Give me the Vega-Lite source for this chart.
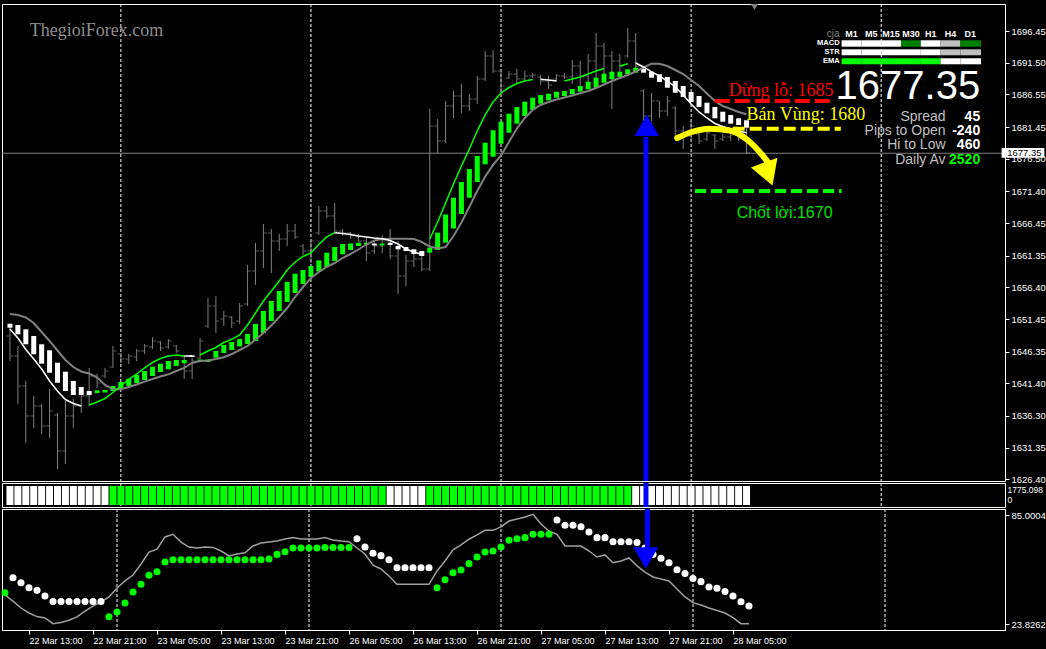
{
"$schema":"https://vega.github.io/schema/vega-lite/v6.json",
"background":"#000000",
"padding":{"left":0,"top":3,"right":46,"bottom":18},
"bounds":"flush",
"spacing":2,
"config":{
 "view":{"stroke":"#ffffff","strokeWidth":1,"fill":"#000000"},
 "axis":{"labelColor":"#ffffff","domainColor":"#ffffff","tickColor":"#ffffff","labelFont":"Liberation Sans","labelFontSize":9.5,"grid":false,"labelOverlap":false,"tickSize":4,"labelPadding":2}
},
"datasets":{
 "one":[{}],
 "days":[{"d":14},{"d":38},{"d":62},{"d":86},{"d":110}],
 "bars":[
{"i":0,"h":1650.20,"l":1644.89,"o":1648.80,"c":1645.67,"a":1650.72,"b":1650.09,"hc":"w","m":1652.23,"s":"w","v":41.4,"vc":"g","w":40.1},
{"i":1,"h":1647.23,"l":1638.17,"o":1645.67,"c":1640.98,"a":1650.52,"b":1649.06,"hc":"w","m":1652.08,"s":"w","v":49.8,"vc":"w","w":36.7},
{"i":2,"h":1641.77,"l":1632.08,"o":1640.98,"c":1636.30,"a":1649.84,"b":1647.50,"hc":"w","m":1651.69,"s":"w","v":47.0,"vc":"w","w":32.8},
{"i":3,"h":1639.42,"l":1634.42,"o":1636.30,"c":1637.86,"a":1648.80,"b":1645.94,"hc":"w","m":1650.83,"s":"w","v":44.2,"vc":"w","w":30.0},
{"i":4,"h":1638.17,"l":1633.48,"o":1637.86,"c":1634.73,"a":1647.50,"b":1644.47,"hc":"w","m":1649.42,"s":"w","v":42.7,"vc":"w","w":28.0},
{"i":5,"h":1640.52,"l":1632.86,"o":1634.73,"c":1637.08,"a":1646.56,"b":1643.06,"hc":"w","m":1648.02,"s":"w","v":39.5,"vc":"w","w":27.2},
{"i":6,"h":1636.77,"l":1628.02,"o":1636.45,"c":1630.83,"a":1644.62,"b":1641.50,"hc":"w","m":1646.53,"s":"w","v":36.5,"vc":"w","w":24.0},
{"i":7,"h":1638.64,"l":1628.80,"o":1630.83,"c":1636.30,"a":1643.22,"b":1640.20,"hc":"w","m":1645.05,"s":"w","v":36.5,"vc":"w","w":24.7},
{"i":8,"h":1638.95,"l":1634.42,"o":1636.30,"c":1637.86,"a":1641.77,"b":1639.58,"hc":"w","m":1643.95,"s":"w","v":36.5,"vc":"w","w":25.9},
{"i":9,"h":1640.67,"l":1636.77,"o":1637.86,"c":1639.42,"a":1640.83,"b":1639.58,"hc":"w","m":1643.25,"s":"w","v":36.5,"vc":"w","w":27.8},
{"i":10,"h":1643.80,"l":1637.86,"o":1639.42,"c":1642.55,"a":1640.20,"b":1639.58,"hc":"w","m":1642.94,"s":"w","v":36.5,"vc":"w","w":31.1},
{"i":11,"h":1642.86,"l":1640.67,"o":1642.55,"c":1641.45,"a":1640.31,"b":1639.89,"hc":"g","m":1642.31,"s":"w","v":36.5,"vc":"w","w":33.9},
{"i":12,"h":1643.80,"l":1642.23,"o":1642.55,"c":1643.33,"a":1640.36,"b":1639.97,"hc":"g","m":1641.14,"s":"w","v":36.5,"vc":"w","w":36.2},
{"i":13,"h":1647.23,"l":1643.80,"o":1643.95,"c":1646.45,"a":1640.98,"b":1640.20,"hc":"g","m":1640.47,"s":"g","v":27.9,"vc":"g","w":39.0},
{"i":14,"h":1646.14,"l":1644.58,"o":1645.98,"c":1645.20,"a":1641.61,"b":1640.52,"hc":"g","m":1640.47,"s":"g","v":30.6,"vc":"g","w":44.0},
{"i":15,"h":1645.98,"l":1644.42,"o":1645.20,"c":1645.67,"a":1642.12,"b":1640.98,"hc":"g","m":1640.83,"s":"g","v":35.6,"vc":"g","w":48.0},
{"i":16,"h":1646.77,"l":1644.89,"o":1645.52,"c":1646.45,"a":1642.70,"b":1641.41,"hc":"g","m":1641.22,"s":"g","v":41.8,"vc":"g","w":51.3},
{"i":17,"h":1647.55,"l":1645.98,"o":1646.45,"c":1647.23,"a":1643.33,"b":1641.92,"hc":"g","m":1641.66,"s":"g","v":46.1,"vc":"g","w":57.5},
{"i":18,"h":1648.64,"l":1646.77,"o":1647.08,"c":1648.02,"a":1644.00,"b":1642.55,"hc":"g","m":1642.08,"s":"g","v":51.2,"vc":"g","w":64.2},
{"i":19,"h":1648.02,"l":1646.45,"o":1647.86,"c":1646.92,"a":1644.47,"b":1643.17,"hc":"g","m":1642.47,"s":"g","v":53.2,"vc":"g","w":65.8},
{"i":20,"h":1648.33,"l":1646.77,"o":1647.08,"c":1648.02,"a":1644.89,"b":1643.59,"hc":"g","m":1642.81,"s":"g","v":58.6,"vc":"g","w":72.7},
{"i":21,"h":1647.39,"l":1646.14,"o":1647.23,"c":1646.45,"a":1645.05,"b":1644.11,"hc":"g","m":1643.33,"s":"g","v":59.9,"vc":"g","w":74.2},
{"i":22,"h":1645.67,"l":1642.08,"o":1645.52,"c":1643.33,"a":1645.05,"b":1644.53,"hc":"g","m":1643.80,"s":"g","v":59.9,"vc":"g","w":69.8},
{"i":23,"h":1645.36,"l":1642.08,"o":1643.33,"c":1644.89,"a":1645.78,"b":1645.52,"hc":"w","m":1644.58,"s":"g","v":59.9,"vc":"g","w":67.0},
{"i":24,"h":1648.48,"l":1645.20,"o":1645.36,"c":1648.02,"a":1645.12,"b":1644.81,"hc":"g","m":1644.89,"s":"g","v":59.9,"vc":"g","w":66.5},
{"i":25,"h":1654.73,"l":1650.05,"o":1650.36,"c":1653.48,"a":1645.12,"b":1644.73,"hc":"g","m":1644.97,"s":"g","v":59.9,"vc":"g","w":67.0},
{"i":26,"h":1655.05,"l":1649.27,"o":1653.48,"c":1651.14,"a":1646.45,"b":1645.41,"hc":"g","m":1645.20,"s":"g","v":59.9,"vc":"g","w":66.8},
{"i":27,"h":1652.70,"l":1650.36,"o":1651.45,"c":1651.92,"a":1647.39,"b":1646.14,"hc":"g","m":1645.47,"s":"g","v":59.9,"vc":"g","w":64.8},
{"i":28,"h":1651.92,"l":1650.05,"o":1651.77,"c":1650.83,"a":1647.86,"b":1646.61,"hc":"g","m":1645.98,"s":"g","v":59.9,"vc":"g","w":62.0},
{"i":29,"h":1653.95,"l":1650.67,"o":1651.14,"c":1653.48,"a":1648.33,"b":1647.16,"hc":"g","m":1646.61,"s":"g","v":59.9,"vc":"g","w":63.1},
{"i":30,"h":1659.89,"l":1653.48,"o":1653.80,"c":1658.95,"a":1649.11,"b":1647.55,"hc":"g","m":1647.23,"s":"g","v":59.9,"vc":"g","w":63.8},
{"i":31,"h":1663.33,"l":1656.77,"o":1658.95,"c":1662.08,"a":1650.67,"b":1648.02,"hc":"g","m":1648.25,"s":"g","v":59.9,"vc":"g","w":67.6},
{"i":32,"h":1666.30,"l":1659.42,"o":1662.08,"c":1664.89,"a":1652.70,"b":1649.27,"hc":"g","m":1649.27,"s":"g","v":59.9,"vc":"g","w":69.3},
{"i":33,"h":1665.52,"l":1658.64,"o":1664.89,"c":1663.64,"a":1654.27,"b":1651.14,"hc":"g","m":1650.44,"s":"g","v":60.3,"vc":"g","w":69.8},
{"i":34,"h":1664.73,"l":1662.08,"o":1663.64,"c":1663.95,"a":1655.83,"b":1652.70,"hc":"g","m":1651.77,"s":"g","v":62.9,"vc":"g","w":70.4},
{"i":35,"h":1666.30,"l":1662.86,"o":1663.95,"c":1665.20,"a":1657.23,"b":1654.11,"hc":"g","m":1653.17,"s":"g","v":64.4,"vc":"g","w":71.5},
{"i":36,"h":1666.30,"l":1663.95,"o":1665.20,"c":1664.27,"a":1658.53,"b":1655.52,"hc":"g","m":1654.89,"s":"g","v":66.5,"vc":"g","w":72.3},
{"i":37,"h":1663.17,"l":1661.45,"o":1662.86,"c":1662.08,"a":1659.11,"b":1656.92,"hc":"g","m":1656.45,"s":"g","v":66.5,"vc":"g","w":71.5},
{"i":38,"h":1663.95,"l":1660.20,"o":1662.08,"c":1663.64,"a":1659.73,"b":1658.02,"hc":"g","m":1657.86,"s":"g","v":66.5,"vc":"g","w":71.5},
{"i":39,"h":1669.11,"l":1664.58,"o":1664.89,"c":1668.33,"a":1660.62,"b":1658.87,"hc":"g","m":1658.80,"s":"g","v":66.5,"vc":"g","w":71.5},
{"i":40,"h":1669.11,"l":1667.23,"o":1668.33,"c":1667.55,"a":1661.81,"b":1659.58,"hc":"g","m":1659.58,"s":"g","v":66.8,"vc":"g","w":72.3},
{"i":41,"h":1669.58,"l":1664.89,"o":1667.55,"c":1665.20,"a":1662.70,"b":1660.52,"hc":"g","m":1660.20,"s":"g","v":66.8,"vc":"g","w":71.0},
{"i":42,"h":1665.52,"l":1664.42,"o":1665.20,"c":1664.89,"a":1663.17,"b":1661.56,"hc":"g","m":1660.98,"s":"g","v":66.8,"vc":"g","w":70.4},
{"i":43,"h":1665.05,"l":1663.95,"o":1664.89,"c":1664.42,"a":1663.25,"b":1662.23,"hc":"g","m":1661.61,"s":"g","v":66.8,"vc":"g","w":70.0},
{"i":44,"h":1664.73,"l":1663.48,"o":1664.42,"c":1663.64,"a":1663.37,"b":1662.86,"hc":"g","m":1662.31,"s":"g","v":71.7,"vc":"w","w":66.5},
{"i":45,"h":1664.11,"l":1660.52,"o":1663.64,"c":1661.77,"a":1663.37,"b":1663.09,"hc":"g","m":1663.09,"s":"g","v":67.0,"vc":"w","w":63.1},
{"i":46,"h":1663.64,"l":1661.61,"o":1662.08,"c":1662.86,"a":1663.25,"b":1662.94,"hc":"w","m":1663.72,"s":"g","v":63.5,"vc":"w","w":56.9},
{"i":47,"h":1664.58,"l":1661.77,"o":1662.86,"c":1663.64,"a":1663.25,"b":1662.94,"hc":"g","m":1663.95,"s":"g","v":62.2,"vc":"w","w":54.7},
{"i":48,"h":1665.52,"l":1660.83,"o":1663.64,"c":1661.30,"a":1663.37,"b":1663.02,"hc":"w","m":1664.00,"s":"w","v":59.9,"vc":"w","w":50.8},
{"i":49,"h":1663.64,"l":1655.36,"o":1661.30,"c":1658.17,"a":1662.86,"b":1662.34,"hc":"w","m":1664.00,"s":"w","v":55.4,"vc":"w","w":46.1},
{"i":50,"h":1661.45,"l":1656.61,"o":1658.17,"c":1660.52,"a":1662.70,"b":1662.08,"hc":"w","m":1664.00,"s":"w","v":55.4,"vc":"w","w":46.1},
{"i":51,"h":1662.08,"l":1659.58,"o":1660.52,"c":1660.83,"a":1662.34,"b":1661.61,"hc":"w","m":1663.95,"s":"w","v":55.4,"vc":"w","w":46.1},
{"i":52,"h":1661.45,"l":1658.95,"o":1660.83,"c":1659.27,"a":1662.08,"b":1661.30,"hc":"w","m":1663.48,"s":"w","v":55.4,"vc":"w","w":46.1},
{"i":53,"h":1684.27,"l":1658.95,"o":1659.27,"c":1681.61,"a":1662.59,"b":1661.81,"hc":"g","m":1662.78,"s":"g","v":55.4,"vc":"w","w":46.1},
{"i":54,"h":1682.70,"l":1677.39,"o":1681.61,"c":1679.27,"a":1664.94,"b":1662.23,"hc":"g","m":1662.47,"s":"g","v":44.2,"vc":"g","w":53.6},
{"i":55,"h":1685.52,"l":1678.95,"o":1679.27,"c":1684.73,"a":1667.78,"b":1663.37,"hc":"g","m":1662.70,"s":"g","v":48.7,"vc":"g","w":59.2},
{"i":56,"h":1687.08,"l":1682.86,"o":1684.73,"c":1686.30,"a":1670.41,"b":1665.59,"hc":"g","m":1664.42,"s":"g","v":52.6,"vc":"g","w":65.4},
{"i":57,"h":1688.17,"l":1683.64,"o":1686.30,"c":1684.73,"a":1672.86,"b":1667.86,"hc":"g","m":1666.53,"s":"g","v":54.1,"vc":"g","w":68.2},
{"i":58,"h":1686.61,"l":1683.95,"o":1684.73,"c":1685.83,"a":1674.89,"b":1670.41,"hc":"g","m":1668.95,"s":"g","v":57.7,"vc":"g","w":71.4},
{"i":59,"h":1689.42,"l":1685.05,"o":1685.83,"c":1688.95,"a":1676.92,"b":1672.86,"hc":"g","m":1671.45,"s":"g","v":61.4,"vc":"g","w":73.8},
{"i":60,"h":1693.33,"l":1688.64,"o":1688.95,"c":1692.55,"a":1679.00,"b":1675.62,"hc":"g","m":1673.72,"s":"g","v":64.2,"vc":"g","w":76.4},
{"i":61,"h":1693.48,"l":1689.89,"o":1692.55,"c":1690.20,"a":1680.94,"b":1676.81,"hc":"g","m":1675.52,"s":"g","v":64.8,"vc":"g","w":76.4},
{"i":62,"h":1690.20,"l":1687.08,"o":1690.20,"c":1687.86,"a":1682.28,"b":1678.84,"hc":"g","m":1677.00,"s":"g","v":67.0,"vc":"g","w":78.3},
{"i":63,"h":1690.20,"l":1688.95,"o":1689.11,"c":1689.73,"a":1683.53,"b":1680.56,"hc":"g","m":1679.11,"s":"g","v":70.8,"vc":"g","w":81.6},
{"i":64,"h":1690.52,"l":1688.33,"o":1689.73,"c":1688.95,"a":1684.58,"b":1681.97,"hc":"g","m":1681.22,"s":"g","v":71.7,"vc":"g","w":82.8},
{"i":65,"h":1690.20,"l":1688.64,"o":1688.95,"c":1689.42,"a":1685.41,"b":1683.17,"hc":"g","m":1682.86,"s":"g","v":72.3,"vc":"g","w":83.9},
{"i":66,"h":1689.89,"l":1689.11,"o":1689.42,"c":1689.58,"a":1686.03,"b":1684.11,"hc":"g","m":1684.11,"s":"g","v":74.2,"vc":"g","w":85.4},
{"i":67,"h":1689.58,"l":1688.02,"o":1689.27,"c":1688.64,"a":1686.45,"b":1685.09,"hc":"g","m":1684.89,"s":"g","v":74.2,"vc":"g","w":79.9},
{"i":68,"h":1689.42,"l":1687.39,"o":1688.64,"c":1688.02,"a":1686.66,"b":1685.62,"hc":"g","m":1685.36,"s":"g","v":74.2,"vc":"g","w":76.0},
{"i":69,"h":1689.73,"l":1688.64,"o":1688.95,"c":1689.42,"a":1686.97,"b":1686.03,"hc":"g","m":1685.75,"s":"g","v":82.2,"vc":"w","w":74.1},
{"i":70,"h":1689.89,"l":1688.95,"o":1689.42,"c":1689.27,"a":1687.08,"b":1686.30,"hc":"g","m":1686.06,"s":"g","v":79.2,"vc":"w","w":67.6},
{"i":71,"h":1691.92,"l":1688.17,"o":1689.27,"c":1690.98,"a":1687.39,"b":1686.56,"hc":"g","m":1686.37,"s":"g","v":79.2,"vc":"w","w":67.6},
{"i":72,"h":1691.77,"l":1687.39,"o":1690.98,"c":1689.42,"a":1687.86,"b":1686.97,"hc":"g","m":1686.72,"s":"g","v":78.4,"vc":"w","w":67.6},
{"i":73,"h":1692.86,"l":1688.33,"o":1689.42,"c":1691.77,"a":1688.53,"b":1687.34,"hc":"g","m":1687.08,"s":"g","v":75.5,"vc":"w","w":64.8},
{"i":74,"h":1696.14,"l":1689.11,"o":1691.77,"c":1694.11,"a":1689.16,"b":1687.59,"hc":"g","m":1687.55,"s":"g","v":72.3,"vc":"w","w":61.4},
{"i":75,"h":1694.58,"l":1689.42,"o":1694.11,"c":1692.55,"a":1689.78,"b":1688.37,"hc":"g","m":1688.09,"s":"g","v":72.3,"vc":"w","w":62.6},
{"i":76,"h":1693.33,"l":1684.27,"o":1692.55,"c":1691.77,"a":1690.09,"b":1688.91,"hc":"g","m":1688.64,"s":"g","v":70.0,"vc":"w","w":58.2},
{"i":77,"h":1692.86,"l":1689.42,"o":1691.77,"c":1690.98,"a":1690.09,"b":1689.27,"hc":"g","m":1689.11,"s":"g","v":70.0,"vc":"w","w":59.2},
{"i":78,"h":1696.92,"l":1692.23,"o":1692.55,"c":1694.89,"a":1690.47,"b":1689.69,"hc":"g","m":1689.58,"s":"g","v":70.0,"vc":"w","w":60.9},
{"i":79,"h":1696.14,"l":1690.36,"o":1694.89,"c":1690.98,"a":1690.72,"b":1689.94,"hc":"g","m":1690.12,"s":"w","v":69.5,"vc":"w","w":56.4},
{"i":80,"h":1687.39,"l":1680.36,"o":1687.08,"c":1683.17,"a":1690.56,"b":1689.94,"hc":"w","m":1690.75,"s":"w","v":66.5,"vc":"w","w":53.0},
{"i":81,"h":1686.77,"l":1682.39,"o":1683.17,"c":1685.52,"a":1690.09,"b":1689.16,"hc":"w","m":1691.34,"s":"w","v":62.9,"vc":"w","w":50.2},
{"i":82,"h":1685.52,"l":1682.86,"o":1685.52,"c":1683.95,"a":1689.69,"b":1688.48,"hc":"w","m":1691.34,"s":"w","v":60.7,"vc":"w","w":49.1},
{"i":83,"h":1686.30,"l":1683.17,"o":1683.95,"c":1685.52,"a":1689.27,"b":1687.59,"hc":"w","m":1690.98,"s":"w","v":58.2,"vc":"w","w":48.0},
{"i":84,"h":1684.73,"l":1679.58,"o":1684.42,"c":1680.83,"a":1688.64,"b":1686.81,"hc":"w","m":1690.36,"s":"w","v":54.3,"vc":"w","w":43.5},
{"i":85,"h":1681.61,"l":1678.02,"o":1680.83,"c":1680.05,"a":1687.86,"b":1686.14,"hc":"w","m":1689.73,"s":"w","v":52.1,"vc":"w","w":39.0},
{"i":86,"h":1682.39,"l":1679.27,"o":1680.05,"c":1681.61,"a":1686.92,"b":1685.36,"hc":"w","m":1688.80,"s":"w","v":49.3,"vc":"w","w":35.8},
{"i":87,"h":1680.52,"l":1678.80,"o":1680.36,"c":1679.27,"a":1686.30,"b":1684.58,"hc":"w","m":1687.86,"s":"w","v":47.6,"vc":"w","w":34.5},
{"i":88,"h":1681.14,"l":1679.27,"o":1679.58,"c":1680.52,"a":1685.25,"b":1683.59,"hc":"w","m":1686.69,"s":"w","v":44.6,"vc":"w","w":32.8},
{"i":89,"h":1680.36,"l":1678.02,"o":1680.20,"c":1679.27,"a":1684.58,"b":1682.81,"hc":"w","m":1685.52,"s":"w","v":43.9,"vc":"w","w":31.4},
{"i":90,"h":1680.36,"l":1679.27,"o":1679.58,"c":1679.89,"a":1683.84,"b":1682.28,"hc":"w","m":1684.73,"s":"w","v":42.0,"vc":"w","w":30.0},
{"i":91,"h":1680.52,"l":1679.27,"o":1679.89,"c":1680.20,"a":1683.33,"b":1681.97,"hc":"w","m":1684.27,"s":"w","v":39.5,"vc":"w","w":27.4},
{"i":92,"h":1680.83,"l":1679.27,"o":1680.20,"c":1679.58,"a":1682.81,"b":1681.77,"hc":"w","m":1683.80,"s":"w","v":36.3,"vc":"w","w":24.0},
{"i":93,"h":1681.30,"l":1677.23,"o":1679.58,"c":1677.39,"a":1682.50,"b":1681.34,"hc":"w","m":1683.44,"s":"w","v":33.9,"vc":"w","w":24.0}
 ],
 "up":[
{"i":0,"v":1649.89,"g":1,"k":"w"},{"i":1,"v":1648.48,"g":1,"k":"w"},{"i":2,"v":1646.69,"g":1,"k":"w"},{"i":3,"v":1645.20,"g":1,"k":"w"},{"i":4,"v":1643.64,"g":1,"k":"w"},{"i":5,"v":1641.77,"g":1,"k":"w"},{"i":6,"v":1640.20,"g":1,"k":"w"},{"i":7,"v":1638.87,"g":1,"k":"w"},{"i":8,"v":1638.25,"g":1,"k":"w"},{"i":9,"v":1637.86,"g":1,"k":"w"},
{"i":10,"v":1638.02,"g":2,"k":"g"},{"i":11,"v":1638.48,"g":2,"k":"g"},{"i":12,"v":1639.03,"g":2,"k":"g"},{"i":13,"v":1639.97,"g":2,"k":"g"},{"i":14,"v":1640.98,"g":2,"k":"g"},{"i":15,"v":1642.03,"g":2,"k":"g"},{"i":16,"v":1642.86,"g":2,"k":"g"},{"i":17,"v":1643.80,"g":2,"k":"g"},{"i":18,"v":1644.66,"g":2,"k":"g"},{"i":19,"v":1645.28,"g":2,"k":"g"},{"i":20,"v":1645.67,"g":2,"k":"g"},{"i":21,"v":1645.83,"g":2,"k":"g"},{"i":22,"v":1645.67,"g":2,"k":"g"},
{"i":22,"v":1645.67,"g":3,"k":"w"},{"i":23,"v":1645.67,"g":3,"k":"w"},
{"i":24,"v":1645.83,"g":4,"k":"g"},{"i":25,"v":1646.45,"g":4,"k":"g"},{"i":26,"v":1647.00,"g":4,"k":"g"},{"i":27,"v":1647.78,"g":4,"k":"g"},{"i":28,"v":1648.28,"g":4,"k":"g"},{"i":29,"v":1648.95,"g":4,"k":"g"},{"i":30,"v":1650.52,"g":4,"k":"g"},{"i":31,"v":1652.39,"g":4,"k":"g"},{"i":32,"v":1654.27,"g":4,"k":"g"},{"i":33,"v":1655.83,"g":4,"k":"g"},{"i":34,"v":1657.39,"g":4,"k":"g"},{"i":35,"v":1659.11,"g":4,"k":"g"},{"i":36,"v":1660.36,"g":4,"k":"g"},{"i":37,"v":1661.22,"g":4,"k":"g"},{"i":38,"v":1661.77,"g":4,"k":"g"},{"i":39,"v":1663.12,"g":4,"k":"g"},{"i":40,"v":1664.27,"g":4,"k":"g"},{"i":41,"v":1664.94,"g":4,"k":"g"},
{"i":41,"v":1664.94,"g":5,"k":"w"},{"i":42,"v":1664.81,"g":5,"k":"w"},{"i":43,"v":1664.66,"g":5,"k":"w"},{"i":44,"v":1664.42,"g":5,"k":"w"},{"i":45,"v":1664.27,"g":5,"k":"w"},{"i":46,"v":1664.11,"g":5,"k":"w"},{"i":47,"v":1664.00,"g":5,"k":"w"},{"i":48,"v":1663.72,"g":5,"k":"w"},{"i":49,"v":1663.17,"g":5,"k":"w"},{"i":50,"v":1662.39,"g":5,"k":"w"},{"i":51,"v":1661.92,"g":5,"k":"w"},{"i":52,"v":1661.53,"g":5,"k":"w"},
{"i":53,"v":1663.95,"g":6,"k":"g"},{"i":54,"v":1666.61,"g":6,"k":"g"},{"i":55,"v":1669.58,"g":6,"k":"g"},{"i":56,"v":1672.55,"g":6,"k":"g"},{"i":57,"v":1675.36,"g":6,"k":"g"},{"i":58,"v":1678.02,"g":6,"k":"g"},{"i":59,"v":1680.83,"g":6,"k":"g"},{"i":60,"v":1683.33,"g":6,"k":"g"},{"i":61,"v":1685.36,"g":6,"k":"g"},{"i":62,"v":1686.77,"g":6,"k":"g"},{"i":63,"v":1687.62,"g":6,"k":"g"},{"i":64,"v":1688.25,"g":6,"k":"g"},{"i":65,"v":1688.64,"g":6,"k":"g"},{"i":66,"v":1688.87,"g":6,"k":"g"},
{"i":67,"v":1688.91,"g":7,"k":"w"},{"i":68,"v":1688.80,"g":7,"k":"w"},{"i":69,"v":1688.64,"g":7,"k":"w"},
{"i":70,"v":1688.64,"g":8,"k":"g"},{"i":71,"v":1688.95,"g":8,"k":"g"},{"i":72,"v":1689.27,"g":8,"k":"g"},{"i":73,"v":1689.73,"g":8,"k":"g"},{"i":74,"v":1690.20,"g":8,"k":"g"},{"i":75,"v":1690.59,"g":8,"k":"g"},
{"i":77,"v":1690.98,"g":9,"k":"g"},{"i":78,"v":1691.34,"g":9,"k":"g"},
{"i":79,"v":1691.45,"g":10,"k":"w"},{"i":80,"v":1690.83,"g":10,"k":"w"},{"i":81,"v":1690.05,"g":10,"k":"w"},{"i":82,"v":1689.42,"g":10,"k":"w"},{"i":83,"v":1688.64,"g":10,"k":"w"},{"i":84,"v":1687.70,"g":10,"k":"w"},{"i":85,"v":1686.45,"g":10,"k":"w"},{"i":86,"v":1685.05,"g":10,"k":"w"},{"i":87,"v":1683.80,"g":10,"k":"w"},{"i":88,"v":1682.86,"g":10,"k":"w"},{"i":89,"v":1682.00,"g":10,"k":"w"},{"i":90,"v":1681.53,"g":10,"k":"w"},{"i":91,"v":1681.14,"g":10,"k":"w"},{"i":92,"v":1680.83,"g":10,"k":"w"},{"i":93,"v":1680.56,"g":10,"k":"w"}
 ],
 "arc":[{"i":84.25,"p":1679.73},{"i":85.875,"p":1680.59},{"i":88.375,"p":1681.19},{"i":90.875,"p":1680.91},{"i":93.125,"p":1679.42},{"i":94.875,"p":1677.23},{"i":95.875,"p":1675.67}],
 "cells":[
{"r":"MACD","t":"M1","a":105,"b":107.5,"y0":1695.0,"y1":1694.0,"k":"w"},
{"r":"MACD","t":"M5","a":107.5,"b":110,"y0":1695.0,"y1":1694.0,"k":"w"},
{"r":"MACD","t":"M15","a":110,"b":112.5,"y0":1695.0,"y1":1694.0,"k":"w"},
{"r":"MACD","t":"M30","a":112.5,"b":115,"y0":1695.0,"y1":1694.0,"k":"d"},
{"r":"MACD","t":"H1","a":115,"b":117.5,"y0":1695.0,"y1":1694.0,"k":"w"},
{"r":"MACD","t":"H4","a":117.5,"b":120,"y0":1695.0,"y1":1694.0,"k":"s"},
{"r":"MACD","t":"D1","a":120,"b":122.6,"y0":1695.0,"y1":1694.0,"k":"d"},
{"r":"STR","t":"M1","a":105,"b":107.5,"y0":1693.59,"y1":1692.66,"k":"w"},
{"r":"STR","t":"M5","a":107.5,"b":110,"y0":1693.59,"y1":1692.66,"k":"w"},
{"r":"STR","t":"M15","a":110,"b":112.5,"y0":1693.59,"y1":1692.66,"k":"w"},
{"r":"STR","t":"M30","a":112.5,"b":115,"y0":1693.59,"y1":1692.66,"k":"w"},
{"r":"STR","t":"H1","a":115,"b":117.5,"y0":1693.59,"y1":1692.66,"k":"w"},
{"r":"STR","t":"H4","a":117.5,"b":120,"y0":1693.59,"y1":1692.66,"k":"s"},
{"r":"STR","t":"D1","a":120,"b":122.6,"y0":1693.59,"y1":1692.66,"k":"s"},
{"r":"EMA","t":"M1","a":105,"b":107.5,"y0":1692.19,"y1":1691.25,"k":"g"},
{"r":"EMA","t":"M5","a":107.5,"b":110,"y0":1692.19,"y1":1691.25,"k":"g"},
{"r":"EMA","t":"M15","a":110,"b":112.5,"y0":1692.19,"y1":1691.25,"k":"g"},
{"r":"EMA","t":"M30","a":112.5,"b":115,"y0":1692.19,"y1":1691.25,"k":"g"},
{"r":"EMA","t":"H1","a":115,"b":117.5,"y0":1692.19,"y1":1691.25,"k":"g"},
{"r":"EMA","t":"H4","a":117.5,"b":120,"y0":1692.19,"y1":1691.25,"k":"w"},
{"r":"EMA","t":"D1","a":120,"b":122.6,"y0":1692.19,"y1":1691.25,"k":"w"}
 ],
 "hdr":[{"t":"M1","x":106.25},{"t":"M5","x":108.75},{"t":"M15","x":111.25},{"t":"M30","x":113.75},{"t":"H1","x":116.25},{"t":"H4","x":118.75},{"t":"D1","x":121.25}],
 "rows":[{"t":"MACD","y":1694.5},{"t":"STR","y":1693.13},{"t":"EMA","y":1691.72}],
 "stats":[{"t":"Spread","n":"45","p":1682.40,"k":"w"},{"t":"Pips to Open","n":"-240","p":1680.25,"k":"w"},{"t":"Hi to Low","n":"460","p":1677.97,"k":"w"},{"t":"Daily Av","n":"2520","p":1675.62,"k":"g"}]
},
"vconcat":[
{
 "width":1003,"height":477,
 "layer":[
  {"data":{"name":"days"},"mark":{"type":"rule","color":"#ffffff","strokeDash":[3,2],"strokeWidth":1},
   "encoding":{"x":{"field":"d","type":"quantitative","scale":{"domain":[-0.375,125],"nice":false,"zero":false},"axis":null,"title":null}}},
  {"data":{"name":"bars"},"mark":{"type":"rule","color":"#808080","strokeWidth":1},
   "encoding":{"x":{"field":"i","type":"quantitative","scale":{"domain":[-0.375,125],"nice":false,"zero":false},"axis":null,"title":null},
    "y":{"field":"l","type":"quantitative","scale":{"domain":[1626.14,1700.67],"nice":false,"zero":false},"title":null,
     "axis":{"orient":"right","values":[1696.45,1691.50,1686.55,1681.45,1676.50,1671.40,1666.45,1661.35,1656.40,1651.45,1646.35,1641.40,1636.30,1631.35,1626.40],"tickCount":40,"format":".2f","labelOverlap":false,"title":null}},
    "y2":{"field":"h"}}},
  {"data":{"name":"one"},"mark":{"type":"rule","color":"#808080","strokeWidth":1},
   "encoding":{"y":{"datum":1677.35,"type":"quantitative","scale":{"domain":[1626.14,1700.67],"nice":false,"zero":false}}}},
  {"data":{"name":"bars"},"mark":{"type":"tick","orient":"horizontal","size":3,"thickness":1,"xOffset":-2,"color":"#808080"},
   "encoding":{"x":{"field":"i","type":"quantitative","scale":{"domain":[-0.375,125],"nice":false,"zero":false},"axis":null,"title":null},
    "y":{"field":"o","type":"quantitative","scale":{"domain":[1626.14,1700.67],"nice":false,"zero":false},"title":null}}},
  {"data":{"name":"bars"},"mark":{"type":"tick","orient":"horizontal","size":3,"thickness":1,"xOffset":2,"color":"#808080"},
   "encoding":{"x":{"field":"i","type":"quantitative","scale":{"domain":[-0.375,125],"nice":false,"zero":false},"axis":null,"title":null},
    "y":{"field":"c","type":"quantitative","scale":{"domain":[1626.14,1700.67],"nice":false,"zero":false},"title":null}}},
  {"data":{"name":"bars"},"mark":{"type":"bar","width":5},
   "encoding":{"x":{"field":"i","type":"quantitative","scale":{"domain":[-0.375,125],"nice":false,"zero":false},"axis":null,"title":null},
    "y":{"field":"a","type":"quantitative","scale":{"domain":[1626.14,1700.67],"nice":false,"zero":false},"title":null},
    "y2":{"field":"b"},
    "color":{"field":"hc","type":"nominal","scale":{"domain":["g","w","d","s"],"range":["#00ff00","#ffffff","#008000","#c0c0c0"]},"legend":null}}},
  {"data":{"name":"bars"},"mark":{"type":"line","color":"#808080","strokeWidth":2},
   "encoding":{"x":{"field":"i","type":"quantitative","scale":{"domain":[-0.375,125],"nice":false,"zero":false},"axis":null,"title":null},
    "y":{"field":"m","type":"quantitative","scale":{"domain":[1626.14,1700.67],"nice":false,"zero":false},"title":null}}},
  {"data":{"name":"up"},"mark":{"type":"line","strokeWidth":1.5},
   "encoding":{"x":{"field":"i","type":"quantitative","scale":{"domain":[-0.375,125],"nice":false,"zero":false},"axis":null,"title":null},
    "y":{"field":"v","type":"quantitative","scale":{"domain":[1626.14,1700.67],"nice":false,"zero":false},"title":null},
    "color":{"field":"k","type":"nominal","scale":{"domain":["g","w","d","s"],"range":["#00ff00","#ffffff","#008000","#c0c0c0"]},"legend":null},
    "detail":{"field":"g","type":"nominal"}}},
  {"data":{"name":"one"},"mark":{"type":"rule","color":"#ff0000","strokeWidth":4,"strokeDash":[15,5]},
   "encoding":{"x":{"datum":89,"type":"quantitative","scale":{"domain":[-0.375,125],"nice":false,"zero":false},"axis":null},"x2":{"datum":104},
    "y":{"datum":1685.5,"type":"quantitative","scale":{"domain":[1626.14,1700.67],"nice":false,"zero":false}}}},
  {"data":{"name":"one"},"mark":{"type":"rule","color":"#ffff00","strokeWidth":4,"strokeDash":[12,5]},
   "encoding":{"x":{"datum":91.25,"type":"quantitative","scale":{"domain":[-0.375,125],"nice":false,"zero":false},"axis":null},"x2":{"datum":104.9},
    "y":{"datum":1681.19,"type":"quantitative","scale":{"domain":[1626.14,1700.67],"nice":false,"zero":false}}}},
  {"data":{"name":"one"},"mark":{"type":"rule","color":"#00ff00","strokeWidth":4,"strokeDash":[11,5]},
   "encoding":{"x":{"datum":86.5,"type":"quantitative","scale":{"domain":[-0.375,125],"nice":false,"zero":false},"axis":null},"x2":{"datum":105},
    "y":{"datum":1671.45,"type":"quantitative","scale":{"domain":[1626.14,1700.67],"nice":false,"zero":false}}}},
  {"data":{"name":"arc"},"mark":{"type":"line","color":"#ffff00","strokeWidth":6,"interpolate":"monotone","strokeCap":"round"},
   "encoding":{"x":{"field":"i","type":"quantitative","scale":{"domain":[-0.375,125],"nice":false,"zero":false},"axis":null,"title":null},
    "y":{"field":"p","type":"quantitative","scale":{"domain":[1626.14,1700.67],"nice":false,"zero":false},"title":null}}},
  {"data":{"name":"one"},"mark":{"type":"point","shape":"triangle-down","filled":true,"color":"#ffff00","opacity":1,"size":800,"angle":-20},
   "encoding":{"x":{"datum":95.75,"type":"quantitative","scale":{"domain":[-0.375,125],"nice":false,"zero":false},"axis":null},
    "y":{"datum":1674.1,"type":"quantitative","scale":{"domain":[1626.14,1700.67],"nice":false,"zero":false}}}},
  {"data":{"name":"one"},"mark":{"type":"text","font":"Liberation Serif","fontSize":18,"color":"#8c8c8c","align":"left","baseline":"alphabetic","text":"ThegioiForex.com"},
   "encoding":{"x":{"datum":2.5,"type":"quantitative","scale":{"domain":[-0.375,125],"nice":false,"zero":false},"axis":null},
    "y":{"datum":1695.67,"type":"quantitative","scale":{"domain":[1626.14,1700.67],"nice":false,"zero":false}}}},
  {"data":{"name":"one"},"mark":{"type":"text","font":"Liberation Serif","fontSize":18,"color":"#ff0000","align":"left","baseline":"alphabetic","text":"Dừng lỗ: 1685"},
   "encoding":{"x":{"datum":90.75,"type":"quantitative","scale":{"domain":[-0.375,125],"nice":false,"zero":false},"axis":null},
    "y":{"datum":1686.30,"type":"quantitative","scale":{"domain":[1626.14,1700.67],"nice":false,"zero":false}}}},
  {"data":{"name":"one"},"mark":{"type":"text","font":"Liberation Serif","fontSize":18,"color":"#ffff00","align":"left","baseline":"alphabetic","text":"Bán Vùng: 1680"},
   "encoding":{"x":{"datum":93,"type":"quantitative","scale":{"domain":[-0.375,125],"nice":false,"zero":false},"axis":null},
    "y":{"datum":1682.50,"type":"quantitative","scale":{"domain":[1626.14,1700.67],"nice":false,"zero":false}}}},
  {"data":{"name":"one"},"mark":{"type":"text","font":"Liberation Sans","fontSize":16,"color":"#00e000","align":"left","baseline":"alphabetic","text":"Chốt lời:1670"},
   "encoding":{"x":{"datum":91.75,"type":"quantitative","scale":{"domain":[-0.375,125],"nice":false,"zero":false},"axis":null},
    "y":{"datum":1667.28,"type":"quantitative","scale":{"domain":[1626.14,1700.67],"nice":false,"zero":false}}}},
  {"data":{"name":"one"},"mark":{"type":"text","font":"Liberation Sans","fontSize":40,"color":"#ffffff","align":"right","baseline":"alphabetic","text":"1677.35"},
   "encoding":{"x":{"datum":122.5,"type":"quantitative","scale":{"domain":[-0.375,125],"nice":false,"zero":false},"axis":null},
    "y":{"datum":1685.83,"type":"quantitative","scale":{"domain":[1626.14,1700.67],"nice":false,"zero":false}}}},
  {"data":{"name":"stats"},"mark":{"type":"text","font":"Liberation Sans","fontSize":14,"color":"#c0c0c0","align":"right","baseline":"alphabetic"},
   "encoding":{"x":{"datum":118.125,"type":"quantitative","scale":{"domain":[-0.375,125],"nice":false,"zero":false},"axis":null},
    "y":{"field":"p","type":"quantitative","scale":{"domain":[1626.14,1700.67],"nice":false,"zero":false},"title":null},
    "text":{"field":"t"}}},
  {"data":{"name":"stats"},"mark":{"type":"text","font":"Liberation Sans","fontSize":14,"fontWeight":"bold","align":"right","baseline":"alphabetic"},
   "encoding":{"x":{"datum":122.5,"type":"quantitative","scale":{"domain":[-0.375,125],"nice":false,"zero":false},"axis":null},
    "y":{"field":"p","type":"quantitative","scale":{"domain":[1626.14,1700.67],"nice":false,"zero":false},"title":null},
    "text":{"field":"n"},
    "color":{"field":"k","type":"nominal","scale":{"domain":["g","w","d","s"],"range":["#00ff00","#ffffff","#008000","#c0c0c0"]},"legend":null}}},
  {"data":{"name":"cells"},"mark":{"type":"rect"},
   "encoding":{"x":{"field":"a","type":"quantitative","scale":{"domain":[-0.375,125],"nice":false,"zero":false},"axis":null,"title":null},"x2":{"field":"b"},
    "y":{"field":"y0","type":"quantitative","scale":{"domain":[1626.14,1700.67],"nice":false,"zero":false},"title":null},"y2":{"field":"y1"},
    "color":{"field":"k","type":"nominal","scale":{"domain":["g","w","d","s"],"range":["#00ff00","#ffffff","#008000","#c0c0c0"]},"legend":null}}},
  {"data":{"name":"hdr"},"mark":{"type":"text","font":"Liberation Sans","fontSize":9,"fontWeight":"bold","color":"#ffffff","align":"center","baseline":"alphabetic"},
   "encoding":{"x":{"field":"x","type":"quantitative","scale":{"domain":[-0.375,125],"nice":false,"zero":false},"axis":null,"title":null},
    "y":{"datum":1695.59,"type":"quantitative","scale":{"domain":[1626.14,1700.67],"nice":false,"zero":false}},
    "text":{"field":"t"}}},
  {"data":{"name":"one"},"mark":{"type":"text","font":"Liberation Sans","fontSize":10,"color":"#808080","align":"center","baseline":"alphabetic","text":"cja"},
   "encoding":{"x":{"datum":103.94,"type":"quantitative","scale":{"domain":[-0.375,125],"nice":false,"zero":false},"axis":null},
    "y":{"datum":1695.59,"type":"quantitative","scale":{"domain":[1626.14,1700.67],"nice":false,"zero":false}}}},
  {"data":{"name":"rows"},"mark":{"type":"text","font":"Liberation Sans","fontSize":7.5,"fontWeight":"bold","color":"#ffffff","align":"right","baseline":"middle"},
   "encoding":{"x":{"datum":104.75,"type":"quantitative","scale":{"domain":[-0.375,125],"nice":false,"zero":false},"axis":null},
    "y":{"field":"y","type":"quantitative","scale":{"domain":[1626.14,1700.67],"nice":false,"zero":false},"title":null},
    "text":{"field":"t"}}},
  {"data":{"name":"one"},"mark":{"type":"point","shape":"triangle-down","filled":true,"color":"#808080","opacity":1,"size":50},
   "encoding":{"x":{"datum":94,"type":"quantitative","scale":{"domain":[-0.375,125],"nice":false,"zero":false},"axis":null},
    "y":{"datum":1700.2,"type":"quantitative","scale":{"domain":[1626.14,1700.67],"nice":false,"zero":false}}}},
  {"data":{"name":"one"},"mark":{"type":"rule","color":"#0000ff","strokeWidth":5},
   "encoding":{"x":{"datum":80.3,"type":"quantitative","scale":{"domain":[-0.375,125],"nice":false,"zero":false},"axis":null},
    "y":{"datum":1679.89,"type":"quantitative","scale":{"domain":[1626.14,1700.67],"nice":false,"zero":false}},"y2":{"datum":1626.14}}},
  {"data":{"name":"one"},"mark":{"type":"point","shape":"triangle-up","filled":true,"color":"#0000ff","opacity":1,"size":600},
   "encoding":{"x":{"datum":80.4,"type":"quantitative","scale":{"domain":[-0.375,125],"nice":false,"zero":false},"axis":null},
    "y":{"datum":1681.7,"type":"quantitative","scale":{"domain":[1626.14,1700.67],"nice":false,"zero":false}}}},
  {"data":{"name":"one"},"mark":{"type":"rect","color":"#ffffff"},
   "encoding":{"x":{"datum":125.2,"type":"quantitative","scale":{"domain":[-0.375,125],"nice":false,"zero":false},"axis":null},"x2":{"datum":130.6},
    "y":{"datum":1678.17,"type":"quantitative","scale":{"domain":[1626.14,1700.67],"nice":false,"zero":false}},"y2":{"datum":1676.64}}},
  {"data":{"name":"one"},"mark":{"type":"text","font":"Liberation Sans","fontSize":9.5,"color":"#000000","align":"left","baseline":"middle","text":"1677.35"},
   "encoding":{"x":{"datum":125.9,"type":"quantitative","scale":{"domain":[-0.375,125],"nice":false,"zero":false},"axis":null},
    "y":{"datum":1677.35,"type":"quantitative","scale":{"domain":[1626.14,1700.67],"nice":false,"zero":false}}}}
 ]
},
{
 "width":1003,"height":24,
 "layer":[
  {"data":{"name":"days"},"mark":{"type":"rule","color":"#ffffff","strokeDash":[3,2],"strokeWidth":1},
   "encoding":{"x":{"field":"d","type":"quantitative","scale":{"domain":[-0.375,125],"nice":false,"zero":false},"axis":null,"title":null}}},
  {"data":{"name":"bars"},"mark":{"type":"bar","width":7},
   "encoding":{"x":{"field":"i","type":"quantitative","scale":{"domain":[-0.375,125],"nice":false,"zero":false},"axis":null,"title":null},
    "y":{"datum":1,"type":"quantitative","scale":{"domain":[-0.105,1.158],"nice":false,"zero":false},
     "axis":{"orient":"right","values":[0.8,0.29],"tickCount":10,"labelExpr":"datum.value > 0.5 ? '1775.098' : '0'","ticks":false,"labelFontSize":8.5,"labelOverlap":false,"title":null}},
    "y2":{"datum":0},
    "color":{"field":"s","type":"nominal","scale":{"domain":["g","w","d","s"],"range":["#00ff00","#ffffff","#008000","#c0c0c0"]},"legend":null}}},
  {"data":{"name":"one"},"mark":{"type":"rule","color":"#0000ff","strokeWidth":5},
   "encoding":{"x":{"datum":80.3,"type":"quantitative","scale":{"domain":[-0.375,125],"nice":false,"zero":false},"axis":null},
    "y":{"datum":-0.105,"type":"quantitative","scale":{"domain":[-0.105,1.158],"nice":false,"zero":false}},"y2":{"datum":1.158}}}
 ]
},
{
 "width":1003,"height":121,
 "layer":[
  {"data":{"name":"days"},"mark":{"type":"rule","color":"#ffffff","strokeDash":[3,2],"strokeWidth":1},
   "encoding":{"x":{"field":"d","type":"quantitative","scale":{"domain":[-0.375,125],"nice":false,"zero":false},"title":null,
     "axis":{"orient":"bottom","values":[3,11,19,27,35,43,51,59,67,75,83,91],"tickCount":40,"labelExpr":"['22 Mar 13:00','22 Mar 21:00','23 Mar 05:00','23 Mar 13:00','23 Mar 21:00','26 Mar 05:00','26 Mar 13:00','26 Mar 21:00','27 Mar 05:00','27 Mar 13:00','27 Mar 21:00','28 Mar 05:00'][(datum.value-3)/8]","labelAlign":"left","labelFontSize":9,"labelBaseline":"top","labelOverlap":false,"labelPadding":2,"labelFlush":false,"title":null}}}},
  {"data":{"name":"bars"},"mark":{"type":"line","color":"#a0a0a0","strokeWidth":1.5},
   "encoding":{"x":{"field":"i","type":"quantitative","scale":{"domain":[-0.375,125],"nice":false,"zero":false},"title":null},
    "y":{"field":"w","type":"quantitative","scale":{"domain":[20.46,88.37],"nice":false,"zero":false},"title":null,
     "axis":{"orient":"right","values":[85.0004,23.8262],"tickCount":10,"format":".4f","labelOverlap":false,"title":null}}}},
  {"data":{"name":"bars"},"mark":{"type":"circle","size":50,"opacity":1},
   "encoding":{"x":{"field":"i","type":"quantitative","scale":{"domain":[-0.375,125],"nice":false,"zero":false},"title":null},
    "y":{"field":"v","type":"quantitative","scale":{"domain":[20.46,88.37],"nice":false,"zero":false},"title":null},
    "color":{"field":"vc","type":"nominal","scale":{"domain":["g","w","d","s"],"range":["#00ff00","#ffffff","#008000","#c0c0c0"]},"legend":null}}},
  {"data":{"name":"one"},"mark":{"type":"rule","color":"#0000ff","strokeWidth":5},
   "encoding":{"x":{"datum":80.3,"type":"quantitative","scale":{"domain":[-0.375,125],"nice":false,"zero":false}},
    "y":{"datum":88.4,"type":"quantitative","scale":{"domain":[20.46,88.37],"nice":false,"zero":false}},"y2":{"datum":65.9}}},
  {"data":{"name":"one"},"mark":{"type":"point","shape":"triangle-down","filled":true,"color":"#0000ff","opacity":1,"size":620},
   "encoding":{"x":{"datum":80.1,"type":"quantitative","scale":{"domain":[-0.375,125],"nice":false,"zero":false}},
    "y":{"datum":60.9,"type":"quantitative","scale":{"domain":[20.46,88.37],"nice":false,"zero":false}}}}
 ]
}
]
}
